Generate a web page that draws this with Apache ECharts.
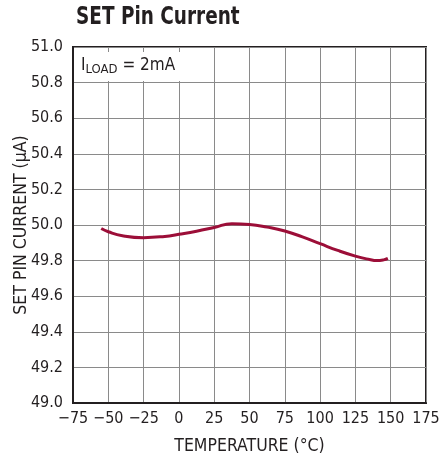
<!DOCTYPE html>
<html>
<head>
<meta charset="utf-8">
<script src="https://cdn.jsdelivr.net/npm/echarts@6/dist/echarts.min.js"></script>
<style>html,body{margin:0;padding:0;background:#fff}#c{width:441px;height:462px}</style>
</head>
<body>
<div id="c"></div>
<script>
const titleText = 'SET Pin Current';
const xName = 'TEMPERATURE (°C)';
const yName = 'SET PIN CURRENT (μA)';
const temperature = [-55, -50, -40, -25, -10, 0, 12.5, 25, 37.5, 50, 62.5, 75, 87.5, 100, 112.5, 125, 135, 140, 145, 148];
const setCurrent = [49.980, 49.962, 49.940, 49.929, 49.936, 49.948, 49.965, 49.986, 50.007, 50.003, 49.988, 49.966, 49.933, 49.895, 49.857, 49.825, 49.806, 49.800, 49.804, 49.812];
const xMin = -75, xMax = 175, xStep = 25;
const yMin = 49.0, yMax = 51.0, yStep = 0.2;

const FONT = '"DejaVu Sans Condensed", "Liberation Sans Narrow", "Liberation Sans", sans-serif';
const chart = echarts.init(document.getElementById('c'), null, {renderer: 'canvas'});
chart.setOption({
  animation: false,
  backgroundColor: '#fff',
  grid: {left: 73, right: 15, top: 47, bottom: 59, show: true, borderColor: '#231f20', borderWidth: 2,
    containLabel: false, outerBoundsMode: 'none'},
  xAxis: {
    type: 'value', min: xMin, max: xMax, interval: xStep,
    name: xName, nameLocation: 'middle', nameGap: 34,
    nameTextStyle: {fontFamily: FONT, fontSize: 17.5, color: '#231f20'},
    axisLine: {show: true, onZero: false, lineStyle: {color: '#231f20', width: 2}},
    axisTick: {show: false},
    axisLabel: {fontFamily: FONT, fontSize: 16, color: '#231f20', margin: 8,
      formatter: v => String(v).replace('-', '\u2212')},
    splitLine: {show: true, lineStyle: {color: '#8a8a8a', width: 1}}
  },
  yAxis: {
    type: 'value', min: yMin, max: yMax, interval: yStep,
    name: yName, nameLocation: 'middle', nameGap: 43, nameMoveOverlap: false,
    nameTextStyle: {fontFamily: FONT, fontSize: 17.5, color: '#231f20'},
    axisLine: {show: true, onZero: false, lineStyle: {color: '#231f20', width: 2}},
    axisTick: {show: false},
    axisLabel: {fontFamily: FONT, fontSize: 16, color: '#231f20', margin: 10,
      formatter: v => v.toFixed(1)},
    splitLine: {show: true, lineStyle: {color: '#8a8a8a', width: 1}}
  },
  graphic: [{
    type: 'text', left: 76, top: 5, z: 100, scaleX: 0.82,
    style: {
      text: titleText,
      font: 'bold 25px ' + FONT,
      fill: '#231f20'
    }
  }, {
    type: 'text', left: 75, top: 52, z: 100,
    style: {
      text: '{a|I}{s|LOAD}{a| = 2mA}',
      backgroundColor: '#fff',
      padding: [4, 6, 5, 6],
      rich: {
        a: {fontFamily: FONT, fontSize: 17, lineHeight: 20, verticalAlign: 'middle', fill: '#231f20', color: '#231f20'},
        s: {fontFamily: FONT, fontSize: 13, lineHeight: 13, verticalAlign: 'bottom', fill: '#231f20', color: '#231f20'}
      }
    }
  }],
  series: [{
    type: 'line', smooth: 0.5, showSymbol: false,
    data: temperature.map((t, i) => [t, setCurrent[i]]),
    lineStyle: {color: '#9c0e38', width: 3},
    itemStyle: {color: '#9c0e38'}
  }]
});
</script>
</body>
</html>
